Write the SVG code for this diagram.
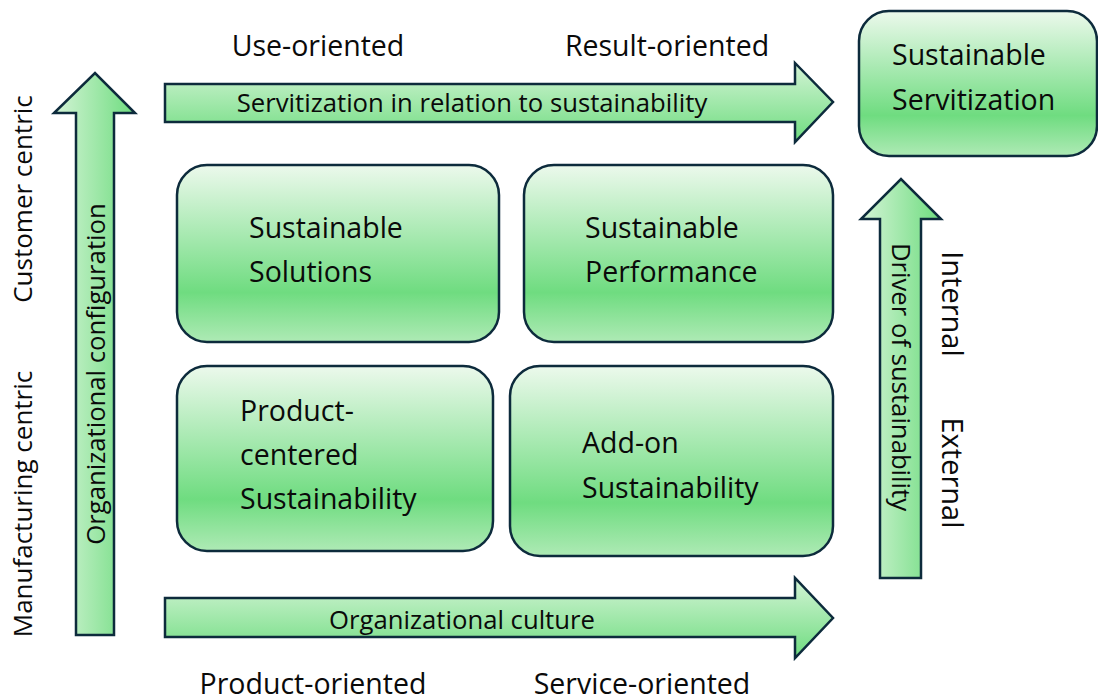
<svg xmlns="http://www.w3.org/2000/svg" width="1098" height="700" viewBox="0 0 1098 700">
  <defs>
    <linearGradient id="boxFill" x1="0" y1="0" x2="0" y2="1">
      <stop offset="0" stop-color="#ecf9ec"/>
      <stop offset="0.72" stop-color="#6fdc80"/>
      <stop offset="1" stop-color="#aeeab5"/>
    </linearGradient>
    <linearGradient id="hArrowFill" x1="0" y1="0" x2="0" y2="1">
      <stop offset="0" stop-color="#d4f4d6"/>
      <stop offset="1" stop-color="#6edc7f"/>
    </linearGradient>
    <linearGradient id="vArrowFill" x1="0" y1="0" x2="1" y2="0">
      <stop offset="0" stop-color="#d4f4d6"/>
      <stop offset="1" stop-color="#6edc7f"/>
    </linearGradient>
    <style>
      .box { fill: url(#boxFill); stroke: #0d2b3c; stroke-width: 2.5; }
      .harrow { fill: url(#hArrowFill); stroke: #0d2b3c; stroke-width: 2.5; stroke-linejoin: miter; }
      .varrow { fill: url(#vArrowFill); stroke: #0d2b3c; stroke-width: 2.5; stroke-linejoin: miter; }
      text { font-family: "Open Sans", "Liberation Sans", sans-serif; fill: #0a0a0a; }
      .lbl { font-size: 28.5px; }
      .side { font-size: 26px; }
      .io { font-size: 29px; }
      .node { font-size: 28.5px; }
      .arrowlbl { font-size: 25.7px; }
    </style>
  </defs>

  <!-- axis arrows -->
  <g id="connectors">
    <path id="arrow-servitization" class="harrow" d="M165,84 H795 V63 L833,102 L795,142 V122 H165 Z"/>
    <path id="arrow-culture" class="harrow" d="M165,598 H795 V578 L833,618 L795,658 V637 H165 Z"/>
    <path id="arrow-configuration" class="varrow" d="M76,635 V113 H54 L95,73 L135,113 H114 V635 Z"/>
    <path id="arrow-driver" class="varrow" d="M880,578 V219 H861 L901,179 L941,219 H921 V578 Z"/>
    <text class="arrowlbl" x="472" y="112" text-anchor="middle">Servitization in relation to sustainability</text>
    <text class="arrowlbl" x="462" y="629" text-anchor="middle">Organizational culture</text>
    <text class="arrowlbl" transform="translate(105,374) rotate(-90)" text-anchor="middle">Organizational  configuration</text>
    <text class="arrowlbl" transform="translate(892,377) rotate(90)" text-anchor="middle">Driver of sustainability</text>
  </g>

  <!-- axis labels -->
  <g id="axis-labels">
    <text class="lbl" x="318" y="56" text-anchor="middle">Use-oriented</text>
    <text class="lbl" x="667" y="56" text-anchor="middle">Result-oriented</text>
    <text class="lbl" x="313" y="694" text-anchor="middle">Product-oriented</text>
    <text class="lbl" x="642" y="694" text-anchor="middle">Service-oriented</text>
    <text class="side" transform="translate(32,199) rotate(-90)" text-anchor="middle">Customer centric</text>
    <text class="side" transform="translate(32,504) rotate(-90)" text-anchor="middle">Manufacturing  centric</text>
    <text class="io" transform="translate(942,304) rotate(90)" text-anchor="middle">Internal</text>
    <text class="io" transform="translate(942,473) rotate(90)" text-anchor="middle">External</text>
  </g>

  <g id="sustainable-solutions">
    <rect class="box" x="177" y="165" width="322" height="177" rx="30"/>
    <text class="node" x="249" y="238">Sustainable</text>
    <text class="node" x="249" y="282">Solutions</text>
  </g>

  <g id="sustainable-performance">
    <rect class="box" x="524" y="165" width="309" height="177" rx="30"/>
    <text class="node" x="585" y="238">Sustainable</text>
    <text class="node" x="585" y="282">Performance</text>
  </g>

  <g id="product-centered-sustainability">
    <rect class="box" x="177" y="366" width="316" height="185" rx="30"/>
    <text class="node" x="240" y="421">Product-</text>
    <text class="node" x="240" y="465">centered</text>
    <text class="node" x="240" y="509">Sustainability</text>
  </g>

  <g id="add-on-sustainability">
    <rect class="box" x="510" y="366" width="323" height="190" rx="30"/>
    <text class="node" x="582" y="453">Add-on</text>
    <text class="node" x="582" y="498">Sustainability</text>
  </g>

  <g id="sustainable-servitization">
    <rect class="box" x="859" y="11" width="238" height="145" rx="30"/>
    <text class="node" x="892" y="65">Sustainable</text>
    <text class="node" x="892" y="110">Servitization</text>
  </g>
</svg>
